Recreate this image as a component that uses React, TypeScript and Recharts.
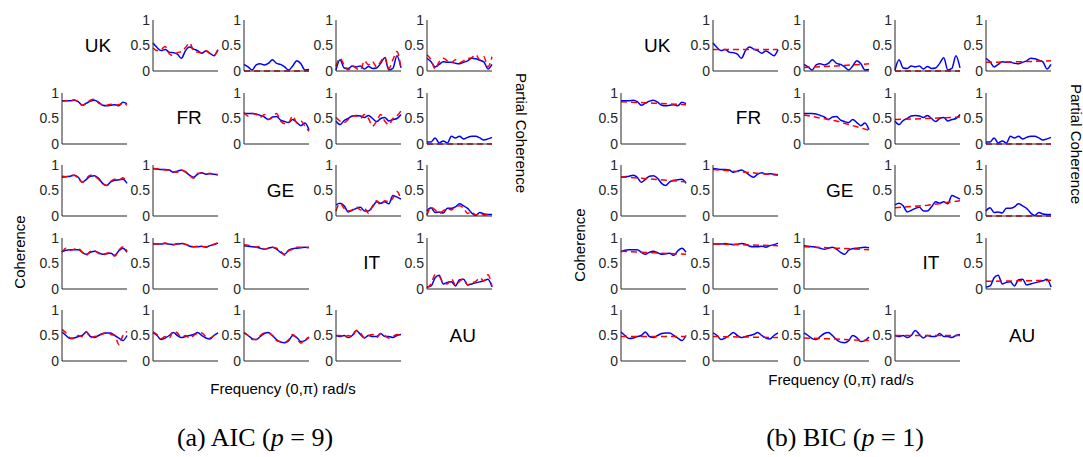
import React from 'react';
import { LineChart, Line, XAxis, YAxis } from 'recharts';

// frequency index (0..pi mapped to 17 samples)
const freqIdx = [0, 1, 2, 3, 4, 5, 6, 7, 8, 9, 10, 11, 12, 13, 14, 15, 16];
const bicIdx = [0, 8, 16];
const countries = ['UK', 'FR', 'GE', 'IT', 'AU'];
const yTicks = [0, 0.5, 1];

// nonparametric estimate (blue) — same in both panels
const b01 = [0.55,0.46,0.40,0.42,0.37,0.36,0.33,0.25,0.40,0.47,0.43,0.40,0.35,0.39,0.35,0.30,0.42];
const b02 = [0.13,0.08,0.02,0.12,0.14,0.12,0.15,0.22,0.15,0.13,0.08,0.02,0.10,0.20,0.14,0.02,0.03];
const b03 = [0.02,0.22,0.06,0.05,0.10,0.08,0.10,0.04,0.09,0.05,0.06,0.15,0.26,0.02,0.05,0.30,0.06];
const b04 = [0.25,0.18,0.08,0.13,0.18,0.17,0.17,0.15,0.14,0.17,0.20,0.25,0.24,0.21,0.18,0.04,0.13];
const b10 = [0.85,0.85,0.85,0.86,0.83,0.76,0.80,0.84,0.86,0.82,0.76,0.75,0.76,0.77,0.75,0.82,0.79];
const b12 = [0.60,0.60,0.60,0.59,0.56,0.53,0.48,0.53,0.54,0.47,0.44,0.42,0.48,0.42,0.36,0.41,0.28];
const b13 = [0.45,0.38,0.46,0.50,0.55,0.56,0.55,0.52,0.56,0.50,0.44,0.50,0.52,0.45,0.48,0.50,0.58];
const b14 = [0.04,0.04,0.12,0.02,0.06,0.02,0.15,0.12,0.15,0.10,0.13,0.15,0.15,0.12,0.08,0.10,0.13];
const b20 = [0.76,0.77,0.78,0.80,0.76,0.66,0.72,0.78,0.79,0.74,0.64,0.60,0.67,0.70,0.71,0.72,0.64];
const b21 = [0.93,0.92,0.91,0.91,0.90,0.86,0.88,0.90,0.86,0.80,0.76,0.82,0.85,0.82,0.83,0.82,0.81];
const b23 = [0.22,0.25,0.20,0.08,0.11,0.15,0.17,0.10,0.10,0.18,0.28,0.25,0.28,0.24,0.40,0.37,0.33];
const b24 = [0.10,0.16,0.07,0.08,0.06,0.15,0.15,0.18,0.24,0.20,0.15,0.06,0.01,0.07,0.04,0.03,0.03];
const b30 = [0.73,0.76,0.77,0.77,0.77,0.72,0.68,0.72,0.74,0.71,0.68,0.69,0.70,0.66,0.75,0.80,0.72];
const b31 = [0.88,0.88,0.88,0.89,0.88,0.87,0.88,0.89,0.88,0.84,0.83,0.83,0.84,0.82,0.85,0.87,0.90];
const b32 = [0.85,0.84,0.83,0.82,0.80,0.78,0.80,0.82,0.78,0.72,0.68,0.76,0.79,0.80,0.81,0.82,0.81];
const b34 = [0.04,0.06,0.22,0.27,0.10,0.13,0.14,0.06,0.18,0.19,0.08,0.10,0.12,0.14,0.16,0.19,0.04];
const b40 = [0.57,0.50,0.44,0.45,0.48,0.50,0.57,0.48,0.46,0.50,0.54,0.55,0.55,0.50,0.45,0.40,0.50];
const b41 = [0.55,0.50,0.42,0.45,0.50,0.56,0.50,0.46,0.48,0.50,0.52,0.56,0.50,0.45,0.43,0.50,0.55];
const b42 = [0.55,0.50,0.44,0.42,0.48,0.54,0.56,0.50,0.42,0.37,0.36,0.40,0.50,0.46,0.38,0.40,0.47];
const b43 = [0.50,0.48,0.50,0.46,0.50,0.60,0.52,0.45,0.50,0.48,0.48,0.54,0.48,0.48,0.46,0.50,0.52];

// VAR estimate, AIC (p = 9) — red dashed, panel (a)
const a01 = [0.45,0.40,0.42,0.48,0.34,0.30,0.36,0.38,0.46,0.55,0.40,0.37,0.36,0.40,0.34,0.31,0.42];
const a02 = [0,0,0,0,0,0,0,0,0,0,0,0,0,0,0,0,0];
const a03 = [0.10,0.25,0.12,0.02,0.10,0.05,0.02,0.20,0.12,0.18,0.08,0.18,0.28,0.05,0.22,0.38,0.05];
const a04 = [0.32,0.22,0.04,0.18,0.25,0.20,0.16,0.22,0.16,0.20,0.24,0.26,0.32,0.22,0.28,0.08,0.28];
const a10 = [0.84,0.85,0.84,0.87,0.82,0.76,0.80,0.86,0.88,0.80,0.77,0.76,0.78,0.76,0.77,0.80,0.76];
const a12 = [0.62,0.55,0.60,0.58,0.52,0.58,0.48,0.52,0.60,0.45,0.40,0.42,0.55,0.42,0.45,0.35,0.25];
const a13 = [0.52,0.45,0.42,0.48,0.55,0.55,0.50,0.58,0.50,0.35,0.45,0.58,0.45,0.38,0.50,0.55,0.65];
const a14 = [0,0,0,0,0,0,0,0,0,0,0,0,0,0,0,0,0];
const a20 = [0.78,0.77,0.80,0.80,0.74,0.66,0.74,0.80,0.78,0.72,0.63,0.60,0.68,0.72,0.70,0.75,0.66];
const a21 = [0.93,0.92,0.92,0.90,0.90,0.87,0.86,0.90,0.87,0.80,0.74,0.84,0.84,0.82,0.84,0.82,0.81];
const a23 = [0.10,0.25,0.15,0.10,0.12,0.18,0.12,0.15,0.05,0.20,0.30,0.22,0.30,0.28,0.35,0.48,0.32];
const a24 = [0.02,0.17,0.12,0.05,0.10,0.15,0.12,0.18,0.20,0.15,0.05,0.08,0.02,0.05,0.02,0.03,0.02];
const a30 = [0.72,0.80,0.76,0.78,0.80,0.72,0.66,0.74,0.75,0.70,0.67,0.70,0.71,0.64,0.76,0.83,0.74];
const a31 = [0.89,0.88,0.89,0.90,0.88,0.87,0.89,0.90,0.87,0.85,0.83,0.84,0.83,0.83,0.84,0.88,0.91];
const a32 = [0.87,0.86,0.83,0.82,0.84,0.78,0.80,0.82,0.80,0.75,0.66,0.75,0.78,0.82,0.82,0.82,0.82];
const a34 = [0.02,0.10,0.28,0.25,0.12,0.10,0.20,0.08,0.15,0.20,0.08,0.12,0.15,0.22,0.16,0.28,0.05];
const a40 = [0.62,0.55,0.45,0.44,0.50,0.48,0.58,0.46,0.48,0.50,0.53,0.56,0.52,0.50,0.32,0.50,0.58];
const a41 = [0.57,0.52,0.44,0.48,0.45,0.58,0.55,0.46,0.50,0.45,0.50,0.54,0.55,0.48,0.45,0.50,0.55];
const a42 = [0.56,0.50,0.42,0.42,0.50,0.55,0.55,0.50,0.40,0.38,0.36,0.42,0.52,0.45,0.35,0.42,0.46];
const a43 = [0.50,0.50,0.46,0.50,0.48,0.60,0.55,0.46,0.50,0.52,0.46,0.54,0.50,0.45,0.48,0.52,0.50];

// VAR estimate, BIC (p = 1) — red dashed, panel (b), at bicIdx
const c01 = [0.42,0.42,0.42];
const c02 = [0.07,0.10,0.14];
const c03 = [0,0,0];
const c04 = [0.17,0.18,0.20];
const c10 = [0.83,0.80,0.77];
const c12 = [0.57,0.45,0.27];
const c13 = [0.48,0.50,0.53];
const c14 = [0,0,0];
const c20 = [0.77,0.72,0.67];
const c21 = [0.91,0.86,0.80];
const c23 = [0.16,0.21,0.30];
const c24 = [0,0,0];
const c30 = [0.74,0.71,0.68];
const c31 = [0.88,0.865,0.85];
const c32 = [0.83,0.80,0.77];
const c34 = [0.15,0.16,0.17];
const c40 = [0.48,0.48,0.48];
const c41 = [0.48,0.47,0.46];
const c42 = [0.45,0.43,0.40];
const c43 = [0.50,0.50,0.50];

const blueSet: Record<string, number[]> = { b01, b02, b03, b04, b10, b12, b13, b14, b20, b21, b23, b24, b30, b31, b32, b34, b40, b41, b42, b43 };
const aicSet: Record<string, number[]> = { a01, a02, a03, a04, a10, a12, a13, a14, a20, a21, a23, a24, a30, a31, a32, a34, a40, a41, a42, a43 };
const bicSet: Record<string, number[]> = { c01, c02, c03, c04, c10, c12, c13, c14, c20, c21, c23, c24, c30, c31, c32, c34, c40, c41, c42, c43 };

const FONT = '"Liberation Sans", Arial, sans-serif';
const AX = '#262626';
const YW = 32;
const MT = 9;
const MB = 10;
const PW = 65;
const PH = 51;
const MR = 4;

function buildData(key: string, panel: 'a' | 'b') {
  const blue = blueSet['b' + key];
  if (panel === 'a') {
    const red = aicSet['a' + key];
    return freqIdx.map((x, i) => ({ x, blue: blue[i], red: red[i] }));
  }
  const red = bicSet['c' + key];
  return freqIdx.map((x, i) => {
    const j = bicIdx.indexOf(x);
    return { x, blue: blue[i], red: j >= 0 ? red[j] : null };
  });
}

function Cell({ r, c, panel, left, top }: { r: number; c: number; panel: 'a' | 'b'; left: number; top: number }) {
  const data = buildData(`${r}${c}`, panel);
  return (
    <div style={{ position: 'absolute', left: left - YW, top: top - MT }}>
      <LineChart width={YW + PW + MR} height={MT + PH + 1 + MB} data={data} margin={{ top: MT, right: MR, bottom: MB, left: 0 }}>
        <XAxis dataKey="x" type="number" domain={[0, 16]} tick={false} tickLine={false} height={1} axisLine={{ stroke: AX, strokeWidth: 1 }} />
        <YAxis type="number" domain={[0, 1]} ticks={yTicks} width={YW} tickLine={false} tickSize={0} tickMargin={3} interval={0}
          tick={{ fontSize: 14, fill: AX, fontFamily: FONT }} axisLine={{ stroke: AX, strokeWidth: 1 }} />
        <Line dataKey="blue" type="monotone" stroke="#0000FF" strokeWidth={1.5} dot={false} isAnimationActive={false} />
        <Line dataKey="red" type={panel === 'a' ? 'monotone' : 'linear'} connectNulls stroke="#FF0000" strokeWidth={1.5} strokeDasharray="6 4" dot={false} isAnimationActive={false} />
      </LineChart>
    </div>
  );
}

function Panel({ panel, x0, dx }: { panel: 'a' | 'b'; x0: number; dx: number }) {
  const cells: React.ReactNode[] = [];
  for (let r = 0; r < 5; r++) {
    for (let c = 0; c < 5; c++) {
      const left = x0 + dx * c;
      const top = 20 + 72.6 * r;
      if (r === c) {
        cells.push(
          <div key={`${r}${c}`} style={{ position: 'absolute', left: left + PW / 2 + 3.5 - 40, top: top + PH / 2 - 13, width: 80, height: 26, lineHeight: '26px', textAlign: 'center', fontFamily: FONT, fontSize: 19, color: '#000' }}>
            {countries[r]}
          </div>
        );
      } else {
        cells.push(<Cell key={`${r}${c}`} r={r} c={c} panel={panel} left={left} top={top} />);
      }
    }
  }
  return <>{cells}</>;
}

export default function App() {
  return (
    <div style={{ position: 'absolute', left: 0, top: 0, width: 1083, height: 457, background: '#fff', overflow: 'hidden' }}>
      <Panel panel="a" x0={62} dx={91.2} />
      <Panel panel="b" x0={621.3} dx={91.2} />
      <svg width={1083} height={457} style={{ position: 'absolute', left: 0, top: 0, pointerEvents: 'none' }}>
        <g fontFamily={FONT} fontSize={15} fill="#000">
          <text x={19} y={252} textAnchor="middle" dominantBaseline="central" transform="rotate(-90 19 252)">Coherence</text>
          <text x={579} y={245} textAnchor="middle" dominantBaseline="central" transform="rotate(-90 579 245)">Coherence</text>
          <text x={521} y={133} textAnchor="middle" dominantBaseline="central" transform="rotate(90 521 133)">Partial Coherence</text>
          <text x={1076} y={144} textAnchor="middle" dominantBaseline="central" transform="rotate(90 1076 144)">Partial Coherence</text>
          <text x={283} y={388} textAnchor="middle" dominantBaseline="central">Frequency (0,π) rad/s</text>
          <text x={841} y={379} textAnchor="middle" dominantBaseline="central">Frequency (0,π) rad/s</text>
        </g>
        <g fontFamily='"Liberation Serif", "DejaVu Serif", serif' fontSize={26} fill="#000">
          <text x={255} y={446} textAnchor="middle">(a) AIC (<tspan fontStyle="italic">p</tspan> = 9)</text>
          <text x={845} y={446} textAnchor="middle">(b) BIC (<tspan fontStyle="italic">p</tspan> = 1)</text>
        </g>
      </svg>
    </div>
  );
}
